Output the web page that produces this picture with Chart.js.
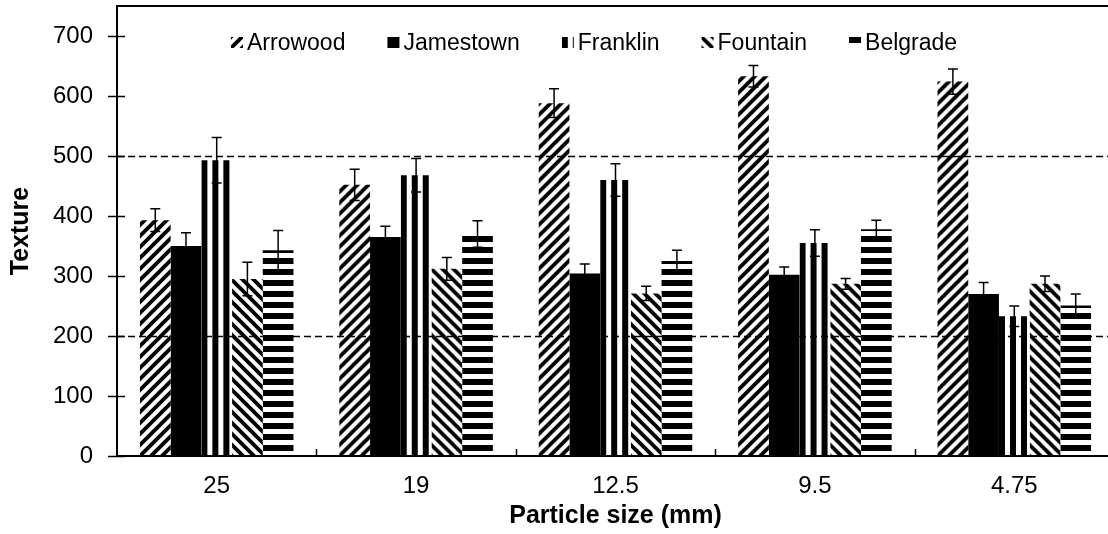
<!DOCTYPE html>
<html>
<head>
<meta charset="utf-8">
<script src="https://cdn.jsdelivr.net/npm/chart.js@4/dist/chart.umd.min.js"></script>
<style>
  html, body { margin: 0; padding: 0; background: #fff; overflow: hidden; }
  #wrap { width: 1108px; height: 534px; overflow: hidden; }
  canvas { display: block; }
</style>
</head>
<body>
<div id="wrap"><canvas id="c" width="1114" height="534"></canvas></div>
<script>
// ---- data ----
const categories = ['25', '19', '12.5', '9.5', '4.75'];
const seriesNames = ['Arrowood', 'Jamestown', 'Franklin', 'Fountain', 'Belgrade'];
const arrowood     = [393, 452, 588, 633, 624];
const arrowoodErr  = [19, 26, 24, 18, 21];
const jamestown    = [350, 365, 304, 302, 270];
const jamestownErr = [22, 18, 16, 13, 19];
const franklin     = [493, 468, 460, 355, 233];
const franklinErr  = [38, 28, 27, 22, 17];
const fountain     = [295, 312, 271, 287, 287];
const fountainErr  = [28, 19, 12, 9, 13];
const belgrade     = [343, 370, 325, 378, 251];
const belgradeErr  = [33, 22, 18, 15, 19];
const yTicks = [0, 100, 200, 300, 400, 500, 600, 700];
const refLines = [200, 500];

const FONT = "'Liberation Sans', Arial, sans-serif";
const CAT_PCT = 0.77;
const PERIOD = 11;

// ---- pattern tiles ----
function makeTile(kind) {
  const c = document.createElement('canvas');
  c.width = PERIOD; c.height = PERIOD;
  const g = c.getContext('2d');
  g.fillStyle = '#fff'; g.fillRect(0, 0, PERIOD, PERIOD);
  g.fillStyle = '#000'; g.strokeStyle = '#000';
  if (kind === 'up' || kind === 'down') {
    g.lineWidth = 3.8;
    g.beginPath();
    for (const k of [-1, 0, 1]) {
      if (kind === 'up') { g.moveTo(k * PERIOD - 3, PERIOD + 3); g.lineTo(k * PERIOD + PERIOD + 3, -3); }
      else { g.moveTo(k * PERIOD - 3, -3); g.lineTo(k * PERIOD + PERIOD + 3, PERIOD + 3); }
    }
    g.stroke();
  } else if (kind === 'vert') {
    g.fillRect(0, 0, 6, PERIOD);
  } else if (kind === 'horiz') {
    g.fillRect(0, 0, PERIOD, 6);
  }
  return c;
}
const kinds = ['up', 'solid', 'vert', 'down', 'horiz'];
const tiles = {};
kinds.forEach(k => { if (k !== 'solid') tiles[k] = makeTile(k); });

function patternAt(kind, ctx2d, x, y) {
  if (kind === 'solid') return '#000';
  const p = ctx2d.createPattern(tiles[kind], 'repeat');
  p.setTransform(new DOMMatrix([1, 0, 0, 1, x, y]));
  return p;
}

const canvas = document.getElementById('c');

function barFill(dsIndex) {
  const kind = kinds[dsIndex];
  return function (c) {
    if (c.type !== 'data') return '#000';
    const chart = c.chart;
    const xs = chart.scales.x;
    if (!xs || !chart.chartArea) return '#000';
    const n = chart.data.labels.length;
    const nds = chart.data.datasets.length;
    const catW = xs.width / n;
    const groupW = catW * CAT_PCT;
    const barW = groupW / nds;
    const left = xs.getPixelForValue(c.dataIndex) - groupW / 2 + c.datasetIndex * barW;
    return patternAt(kind, chart.ctx, left, chart.chartArea.bottom);
  };
}

const values = [arrowood, jamestown, franklin, fountain, belgrade];
const errors = [arrowoodErr, jamestownErr, franklinErr, fountainErr, belgradeErr];

const datasets = seriesNames.map((name, i) => ({
  label: name,
  data: values[i],
  errors: errors[i],
  backgroundColor: barFill(i),
  borderWidth: 0,
  categoryPercentage: CAT_PCT,
  barPercentage: 1.0
}));

const decor = {
  id: 'decor',
  afterDatasetsDraw(chart) {
    const g = chart.ctx;
    const ys = chart.scales.y;
    const area = chart.chartArea;
    g.save();
    g.strokeStyle = '#000';
    g.lineWidth = 1.5;
    chart.data.datasets.forEach((ds, i) => {
      const meta = chart.getDatasetMeta(i);
      meta.data.forEach((bar, j) => {
        const v = ds.data[j], e = ds.errors[j];
        const yt = ys.getPixelForValue(v + e);
        const yb = ys.getPixelForValue(v - e);
        g.beginPath();
        g.moveTo(bar.x, yt); g.lineTo(bar.x, yb);
        g.moveTo(bar.x - 5, yt); g.lineTo(bar.x + 5, yt);
        g.moveTo(bar.x - 5, yb); g.lineTo(bar.x + 5, yb);
        g.stroke();
      });
    });
    g.setLineDash([7, 4]);
    g.lineWidth = 1.5;
    refLines.forEach(v => {
      const y = Math.round(ys.getPixelForValue(v)) + 0.5;
      g.beginPath();
      g.moveTo(area.left, y); g.lineTo(area.right, y);
      g.stroke();
    });
    g.restore();
  },
  afterDraw(chart) {
    const g = chart.ctx;
    const ys = chart.scales.y;
    const xs = chart.scales.x;
    const area = chart.chartArea;
    g.save();
    g.strokeStyle = '#000';
    g.lineWidth = 2;
    g.strokeRect(area.left, area.top, area.right - area.left, area.bottom - area.top);
    g.lineWidth = 1.5;
    g.beginPath();
    yTicks.forEach(v => {
      const y = Math.round(ys.getPixelForValue(v)) + 0.5;
      g.moveTo(area.left - 9, y); g.lineTo(area.left + 8, y);
    });
    const n = chart.data.labels.length;
    const catW = xs.width / n;
    for (let k = 1; k < n; k++) {
      const x = Math.round(area.left + k * catW) + 0.5;
      g.moveTo(x, area.bottom); g.lineTo(x, area.bottom - 7);
    }
    g.stroke();
    // legend
    g.font = '23px ' + FONT;
    g.textBaseline = 'middle';
    g.textAlign = 'left';
    let x = 231;
    const by = 37, bs = 11;
    chart.data.datasets.forEach((ds, i) => {
      g.fillStyle = patternAt(kinds[i], g, x, by + bs);
      g.fillRect(x, by, 12, bs);
      g.fillStyle = '#000';
      g.fillText(ds.label, x + 16, 44);
      x += 16 + g.measureText(ds.label).width + 42;
    });
    g.restore();
  }
};

new Chart(canvas, {
  type: 'bar',
  data: { labels: categories, datasets },
  options: {
    responsive: false,
    animation: false,
    devicePixelRatio: 1,
    layout: { padding: { top: 6, left: 0, right: 0, bottom: 0 } },
    plugins: { legend: { display: false }, tooltip: { enabled: false } },
    scales: {
      x: {
        grid: { display: false, drawTicks: false },
        border: { display: false },
        ticks: { color: '#000', font: { family: FONT, size: 24 }, padding: 16, maxRotation: 0 },
        title: { display: true, text: 'Particle size (mm)', color: '#000',
                 font: { family: FONT, size: 25, weight: 'bold' }, padding: { top: 0, bottom: 3 } },
        afterFit(s) { s.height = 78; s.paddingLeft = 0; s.paddingRight = 0; }
      },
      y: {
        min: 0, max: 750,
        grid: { display: false, drawTicks: false },
        border: { display: false },
        ticks: { stepSize: 100, color: '#000', font: { family: FONT, size: 24 }, padding: 24 },
        afterBuildTicks(s) { s.ticks = yTicks.map(v => ({ value: v })); },
        title: { display: true, text: 'Texture', color: '#000',
                 font: { family: FONT, size: 25, weight: 'bold' }, padding: { top: 6, bottom: 0 } },
        afterFit(s) { s.width = 117; s.paddingTop = 0; s.paddingBottom = 0; }
      }
    }
  },
  plugins: [decor]
});
</script>
</body>
</html>
